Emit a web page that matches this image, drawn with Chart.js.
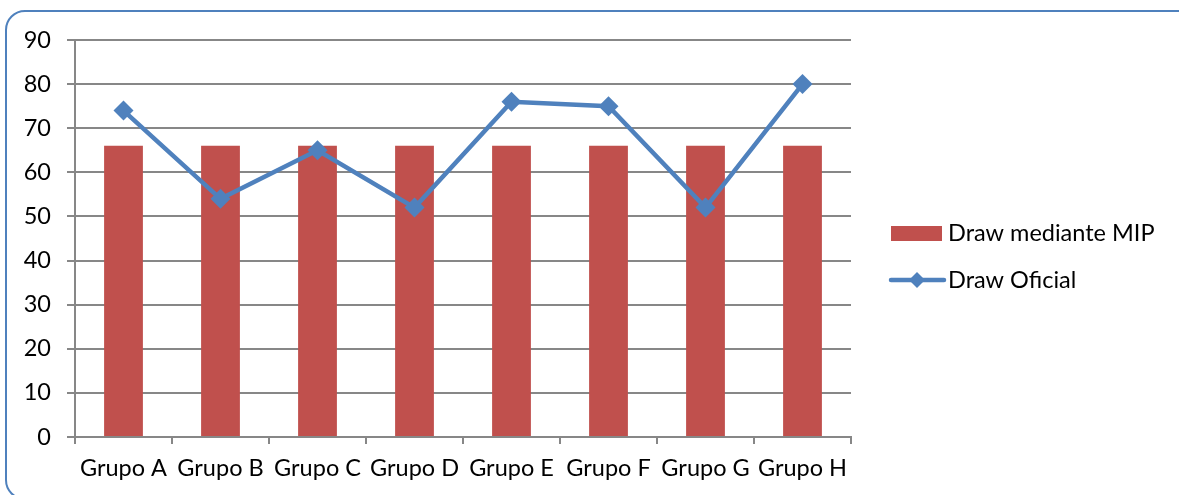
<!DOCTYPE html>
<html>
<head>
<meta charset="utf-8">
<script src="https://cdn.jsdelivr.net/npm/chart.js@4.4.1/dist/chart.umd.min.js"></script>
<style>
  html, body { margin: 0; padding: 0; background: #fff; overflow: hidden; }
  .frame {
    position: absolute; left: 5px; top: 10px; width: 1200px; height: 490px;
    border: 2px solid #4f81bd; border-radius: 20px; box-sizing: border-box;
  }
  .wrap { position: absolute; left: 0; top: 0; width: 1179px; height: 495px; }
</style>
</head>
<body>
<div class="frame"></div>
<div class="wrap"><canvas id="chart"></canvas></div>
<script>
// Groups and the two series
const groups = ['Grupo A', 'Grupo B', 'Grupo C', 'Grupo D', 'Grupo E', 'Grupo F', 'Grupo G', 'Grupo H'];
const drawMip = [66, 66, 66, 66, 66, 66, 66, 66];
const drawOficial = [74, 54, 65, 52, 76, 75, 52, 80];
const yTicks = [0, 10, 20, 30, 40, 50, 60, 70, 80, 90];

const RED = '#c0504d';
const BLUE = '#4f81bd';
const GRID = '#878787';
const FONT = 'Lato, "Open Sans", sans-serif';

// Legend painted in the free area to the right of the plot
const sideLegend = {
  id: 'sideLegend',
  afterDraw(chart) {
    const ctx = chart.ctx;
    const bar = chart.data.datasets.find(d => d.type !== 'line');
    const line = chart.data.datasets.find(d => d.type === 'line');
    ctx.save();
    ctx.font = '23.5px ' + FONT;
    ctx.textBaseline = 'middle';

    // bar entry
    ctx.fillStyle = bar.backgroundColor;
    ctx.fillRect(891, 226, 51, 15);
    ctx.fillStyle = '#000';
    ctx.fillText(bar.label, 948, 233);

    // line entry
    ctx.strokeStyle = line.borderColor;
    ctx.lineWidth = 4.5;
    ctx.lineCap = 'round';
    ctx.beginPath();
    ctx.moveTo(891, 280);
    ctx.lineTo(944, 280);
    ctx.stroke();
    ctx.fillStyle = line.pointBackgroundColor;
    ctx.beginPath();
    ctx.moveTo(917, 272);
    ctx.lineTo(925, 280);
    ctx.lineTo(917, 288);
    ctx.lineTo(909, 280);
    ctx.closePath();
    ctx.fill();
    ctx.fillStyle = '#000';
    ctx.fillText(line.label, 948, 280);
    ctx.restore();
  }
};

new Chart(document.getElementById('chart'), {
  type: 'bar',
  data: {
    labels: groups,
    datasets: [
      {
        type: 'line',
        label: 'Draw Oficial',
        data: drawOficial,
        borderColor: BLUE,
        borderWidth: 4.5,
        pointStyle: 'rectRot',
        pointRadius: 10,
        pointBackgroundColor: BLUE,
        pointBorderColor: BLUE,
        pointBorderWidth: 0,
        tension: 0,
        order: 0
      },
      {
        type: 'bar',
        label: 'Draw mediante MIP',
        data: drawMip,
        backgroundColor: RED,
        categoryPercentage: 1,
        barPercentage: 0.4,
        order: 1
      }
    ]
  },
  plugins: [sideLegend],
  options: {
    responsive: true,
    maintainAspectRatio: false,
    animation: false,
    layout: { padding: { top: 40, right: 328, bottom: 0, left: 0 } },
    plugins: {
      legend: { display: false },
      tooltip: { enabled: false }
    },
    scales: {
      x: {
        offset: true,
        afterFit: (s) => { s.height = 58; },
        grid: {
          offset: true,
          drawOnChartArea: false,
          drawTicks: true,
          tickLength: 7,
          color: GRID,
          lineWidth: 2
        },
        border: { color: GRID, width: 2 },
        ticks: {
          color: '#000',
          padding: 10,
          maxRotation: 0,
          font: { family: FONT, size: 23.5 }
        }
      },
      y: {
        min: 0,
        max: 90,
        afterFit: (s) => { s.width = 75; },
        afterBuildTicks: (s) => { s.ticks = yTicks.map(v => ({ value: v })); },
        grid: {
          color: GRID,
          lineWidth: 2,
          tickLength: 8
        },
        border: { color: GRID, width: 2 },
        ticks: {
          color: '#000',
          padding: 16,
          font: { family: FONT, size: 23.5 }
        }
      }
    }
  }
});
</script>
</body>
</html>
